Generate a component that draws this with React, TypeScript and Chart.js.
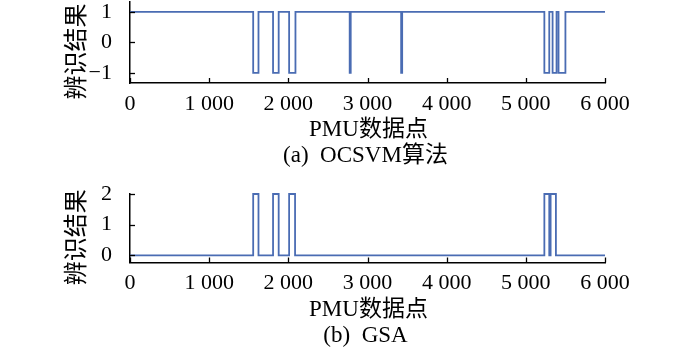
import React, { useEffect, useRef } from "react";
import { Chart, registerables } from "chart.js";

Chart.register(...registerables);

// ---- data ----
const xTickValues = [0, 1000, 2000, 3000, 4000, 5000, 6000];

// OCSVM: each point = start of a segment (PMU index) and label held until next start
const ocsvmStart = [0, 1556, 1623, 1807, 1878, 2010, 2090, 2775, 2788, 3425, 3438, 5234, 5296, 5338, 5388, 5413, 5500, 6000];
const ocsvmLabel = [1, -1, 1, -1, 1, -1, 1, -1, 1, -1, 1, -1, 1, -1, 1, -1, 1, 1];
const ocsvmYTicks = [-1, 0, 1];

// GSA
const gsaStart = [0, 1556, 1623, 1807, 1878, 2010, 2085, 5234, 5296, 5313, 5380, 6000];
const gsaLabel = [0, 2, 0, 2, 0, 2, 0, 2, 0, 2, 0, 0];
const gsaYTicks = [0, 1, 2];

const xTitle = "PMU数据点";
const yTitle = "辨识结果";
const captionA = "(a)  OCSVM算法";
const captionB = "(b)  GSA";

const FONT = '"Liberation Serif", "Noto Sans CJK SC", serif';
const LINE_COLOR = "#4a6cb3";

function fmtX(v: number): string {
  if (v >= 1000) {
    const th = Math.floor(v / 1000);
    const rest = String(v % 1000).padStart(3, "0");
    return `${th} ${rest}`;
  }
  return String(v);
}
function fmtY(v: number): string {
  return v < 0 ? "\u2212" + Math.abs(v) : String(v);
}

type PanelProps = {
  xs: number[];
  ys: number[];
  yMin: number;
  yMax: number;
  yTicks: number[];
  caption: string;
  padTop: number;
  xHeight: number;
};

function Panel({ xs, ys, yMin, yMax, yTicks, caption, padTop, xHeight }: PanelProps) {
  const ref = useRef<HTMLCanvasElement | null>(null);
  useEffect(() => {
    if (!ref.current) return;
    const decor = {
      id: "decor",
      afterDraw(chart: any) {
        const ctx = chart.ctx as CanvasRenderingContext2D;
        const area = chart.chartArea;
        const xs_ = chart.scales.x;
        const ys_ = chart.scales.y;
        ctx.save();
        ctx.strokeStyle = "#000";
        ctx.lineWidth = 1.3;
        // inward ticks
        xTickValues.forEach((v) => {
          const px = Math.round(xs_.getPixelForValue(v)) + 0.5;
          ctx.beginPath();
          ctx.moveTo(px, area.bottom);
          ctx.lineTo(px, area.bottom - 5);
          ctx.stroke();
        });
        yTicks.forEach((v) => {
          const py = Math.round(ys_.getPixelForValue(v)) + 0.5;
          ctx.beginPath();
          ctx.moveTo(area.left, py);
          ctx.lineTo(area.left + 5, py);
          ctx.stroke();
        });
        // titles
        ctx.fillStyle = "#000";
        ctx.textAlign = "center";
        ctx.textBaseline = "middle";
        const cx = (area.left + area.right) / 2;
        ctx.font = `23px ${FONT}`;
        ctx.fillText(xTitle, cx + 1, area.bottom + 47);
        ctx.fillText(caption, cx - 2, area.bottom + 73);
        ctx.translate(78, (area.top + area.bottom) / 2 + 9);
        ctx.rotate(-Math.PI / 2);
        ctx.font = `24px ${FONT}`;
        ctx.fillText(yTitle, 0, 0);
        ctx.restore();
      },
    };
    const chart = new Chart(ref.current, {
      type: "line",
      data: {
        datasets: [
          {
            data: xs.map((x, i) => ({ x, y: ys[i] })),
            borderColor: LINE_COLOR,
            borderWidth: 1.8,
            pointRadius: 0,
            stepped: "before",
            fill: false,
            clip: 6,
          } as any,
        ],
      },
      options: {
        animation: false,
        responsive: false,
        maintainAspectRatio: false,
        layout: { padding: { top: padTop, right: 95, left: 0, bottom: 0 } },
        plugins: { legend: { display: false }, tooltip: { enabled: false } },
        scales: {
          x: {
            type: "linear",
            min: 0,
            max: 6000,
            afterBuildTicks: (s: any) => {
              s.ticks = xTickValues.map((v) => ({ value: v }));
            },
            afterFit: (s: any) => {
              s.height = xHeight;
              s.paddingLeft = 0;
              s.paddingRight = 0;
            },
            ticks: {
              callback: (v: any) => fmtX(Number(v)),
              font: { family: FONT, size: 22 },
              color: "#000",
              padding: 0,
              maxRotation: 0,
              autoSkip: false,
            },
            grid: { display: false },
            border: { display: true, color: "#000", width: 1.5 },
          },
          y: {
            type: "linear",
            min: yMin,
            max: yMax,
            afterBuildTicks: (s: any) => {
              s.ticks = yTicks.map((v) => ({ value: v }));
            },
            afterFit: (s: any) => {
              s.width = 130;
              s.paddingTop = 0;
              s.paddingBottom = 0;
            },
            ticks: {
              callback: (v: any) => fmtY(Number(v)),
              font: { family: FONT, size: 22 },
              color: "#000",
              padding: 10,
            },
            grid: { display: false },
            border: { display: true, color: "#000", width: 1.5 },
          },
        },
      } as any,
      plugins: [decor],
    });
    return () => chart.destroy();
  }, []);
  return <canvas ref={ref} width={700} height={177} style={{ display: "block", width: 700, height: 177 }} />;
}

export default function App() {
  return (
    <div style={{ position: "absolute", left: 0, top: 0, width: 700, height: 354, background: "#fff" }}>
      <Panel xs={ocsvmStart} ys={ocsvmLabel} yMin={-1.33} yMax={1.32} yTicks={ocsvmYTicks} caption={captionA} padTop={2} xHeight={94} />
      <Panel xs={gsaStart} ys={gsaLabel} yMin={-0.23} yMax={2} yTicks={gsaYTicks} caption={captionB} padTop={17} xHeight={91.5} />
    </div>
  );
}
